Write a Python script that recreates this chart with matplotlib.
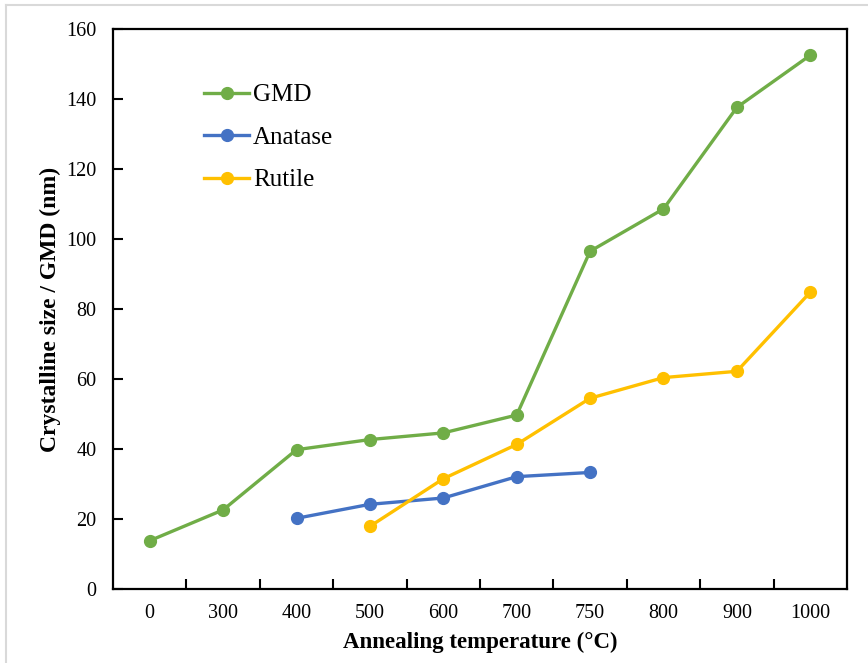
import numpy as np
import matplotlib.pyplot as plt
from matplotlib.lines import Line2D

plt.rcParams['font.family'] = ['Liberation Serif', 'DejaVu Serif']

# Annealing temperatures (categorical axis)
temps = ["0", "300", "400", "500", "600", "700", "750", "800", "900", "1000"]

# Geometric mean diameter and crystallite sizes (nm)
gmd = [13.8, 22.6, 39.8, 42.7, 44.6, 49.7, 96.5, 108.6, 137.6, 152.5]
anatase_idx = [2, 3, 4, 5, 6]
anatase = [20.2, 24.2, 26.0, 32.1, 33.3]
rutile_idx = [3, 4, 5, 6, 7, 8, 9]
rutile = [17.9, 31.5, 41.3, 54.5, 60.4, 62.2, 84.8]

c_gmd = "#70AD47"
c_ana = "#4472C4"
c_rut = "#FFC000"

fig = plt.figure(figsize=(8.68, 6.63), dpi=100)
ax = fig.add_axes([0.1302, 0.1116, 0.8456, 0.8447])

x = np.arange(len(temps))
style = dict(linewidth=2.4, marker="o", markersize=8.5)
ax.plot(x, gmd, color=c_gmd, label="GMD", **style)
ax.plot(anatase_idx, anatase, color=c_ana, label="Anatase", **style)
ax.plot(rutile_idx, rutile, color=c_rut, label="Rutile", **style)

ax.set_xlim(-0.5, len(temps) - 0.5)
ax.set_ylim(0, 160)
ax.set_yticks(np.arange(0, 161, 20))

# category labels centred, tick marks on the category boundaries
ax.set_xticks(x)
ax.set_xticklabels(temps)
ax.set_xticks(np.arange(0.5, len(temps) - 1, 1), minor=True)
ax.tick_params(axis="x", which="major", length=0, pad=11, labelsize=14.5)
ax.tick_params(axis="x", which="minor", direction="in", length=7, width=1.5)
ax.tick_params(axis="y", direction="in", length=7, width=1.5, pad=12, labelsize=14.5)

for s in ax.spines.values():
    s.set_linewidth(1.6)
    s.set_color("black")

ax.set_xlabel("Annealing temperature (°C)", fontsize=16.5, fontweight="bold", labelpad=6)
ax.set_ylabel("Crystalline size / GMD (nm)", fontsize=17, fontweight="bold", labelpad=4)

ax.legend(loc="upper left", bbox_to_anchor=(0.124, 0.902), frameon=False,
          fontsize=18, handlelength=1.8, handletextpad=0.15, labelspacing=0.8,
          borderpad=0, borderaxespad=0)

# thin grey frame along the top and left of the picture
fig.add_artist(Line2D([6 / 868, 6 / 868], [0, 1 - 5 / 663], transform=fig.transFigure,
                      color="#d9d9d9", linewidth=1.5))
fig.add_artist(Line2D([6 / 868, 1], [1 - 5 / 663, 1 - 5 / 663], transform=fig.transFigure,
                      color="#d9d9d9", linewidth=1.5))

fig.savefig("out.png", dpi=100)
